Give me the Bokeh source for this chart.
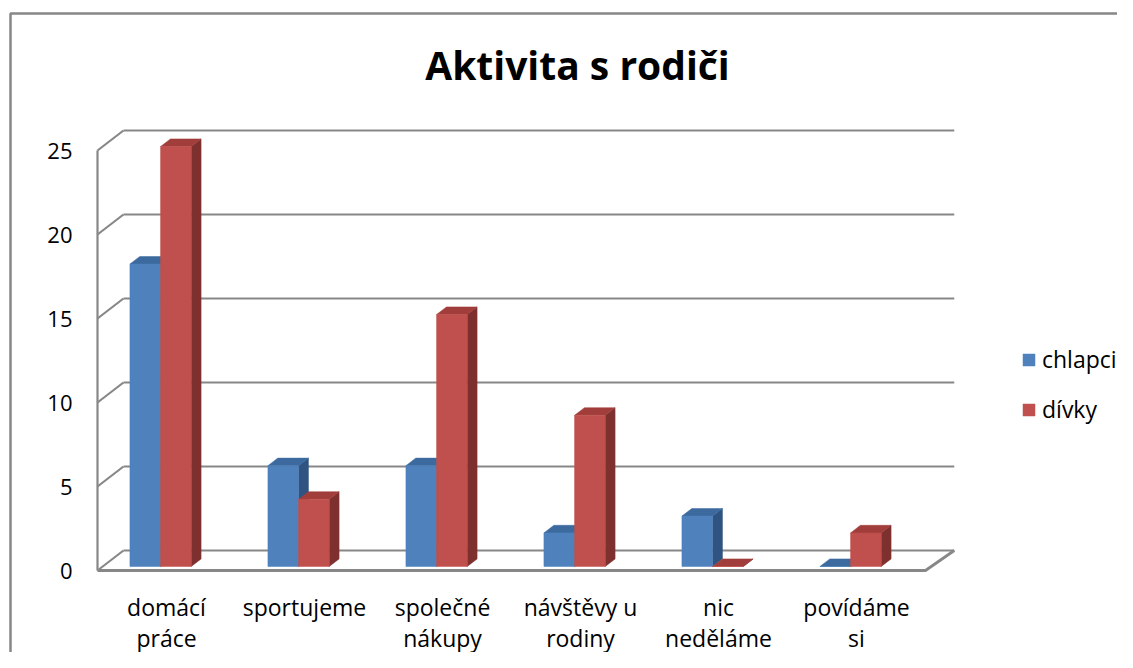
import numpy as np
from bokeh.plotting import figure
from bokeh.models import Range1d, Label, Legend, LegendItem
from bokeh.core.properties import value
from bokeh.embed import file_html
from bokeh.resources import INLINE

# ---------------- data ----------------
categories = ["domácí\npráce", "sportujeme", "společné\nnákupy",
              "návštěvy u\nrodiny", "nic\nneděláme", "povídáme\nsi"]
chlapci = [18, 6, 6, 2, 3, 0]
divky = [25, 4, 15, 9, 0, 2]
series_names = ["chlapci", "dívky"]
y_ticks = [0, 5, 10, 15, 20, 25]
y_tick_labels = ["0", "5", "10", "15", "20", "25"]
title_text = "Aktivita s rodiči"

# ---------------- styling ----------------
FONT = "Open Sans"
GRID = "#878787"
FRONT = ["#4F81BD", "#C0504D"]
TOP = ["#3D6A9E", "#A13E3B"]
SIDE = ["#2F5481", "#7D302E"]

W, H = 1117, 652
X0, PX = 97.0, 138.0         # pixel position of category 0 / px per category
Y0, PY = 570.0, 16.8         # pixel position of value 0 / px per unit


def px2x(rx):
    return (rx - X0) / PX


def py2y(ry):
    return (Y0 - ry) / PY


DX, DY = 26 / PX, 20 / PY     # depth of the 3D box
n = len(categories)
idx = np.arange(n)
ymax = max(y_ticks)

p = figure(width=W, height=H, output_backend="svg", toolbar_location=None,
           x_range=Range1d(px2x(0), px2x(W)),
           y_range=Range1d(py2y(H), py2y(0)),
           x_axis_type=None, y_axis_type=None, min_border=0)
p.grid.visible = False
p.outline_line_color = None
p.background_fill_color = "white"
p.border_fill_color = "white"

# outer chart border (cropped at right/bottom)
p.line(x=[px2x(10), px2x(10), px2x(1400)], y=[py2y(900), py2y(13), py2y(13)],
       line_color=GRID, line_width=2.5)

# back wall gridlines
p.multi_line(xs=[[DX, n + DX + 0.02] for v in y_ticks],
             ys=[[v + DY, v + DY] for v in y_ticks],
             line_color=GRID, line_width=2.2)
# left wall diagonals
p.multi_line(xs=[[0, DX] for v in y_ticks],
             ys=[[v, v + DY] for v in y_ticks],
             line_color=GRID, line_width=2.2)
# left front vertical edge
p.line(x=[0, 0], y=[0, ymax], line_color=GRID, line_width=2.2)
# floor front edge and right diagonal
p.line(x=[0, n, n + DX + 0.02], y=[0, 0, DY], line_color=GRID, line_width=2.8)

# ---------------- bars ----------------
BAR_LEFT, BAR_W = 0.235, 0.222
FD, BD = 0.2, 0.38
y0 = FD * DY
bdx, bdy = BD * DX, BD * DY

fronts = []
for s, vals in enumerate([chlapci, divky]):
    vals = np.array(vals, dtype=float)
    left = idx + BAR_LEFT + s * BAR_W
    right = left + BAR_W
    top = y0 + vals
    side_xs = [[r, r + bdx, r + bdx, r] for r in right]
    side_ys = [[y0, y0 + bdy, t + bdy, t] for t in top]
    top_xs = [[l, r, r + bdx, l + bdx] for l, r in zip(left, right)]
    top_ys = [[t, t, t + bdy, t + bdy] for t in top]
    p.patches(xs=side_xs, ys=side_ys, fill_color=SIDE[s], line_color=SIDE[s], line_width=0.5)
    p.patches(xs=top_xs, ys=top_ys, fill_color=TOP[s], line_color=TOP[s], line_width=0.5)
    fr = p.quad(left=left, right=right, bottom=y0, top=top,
                fill_color=FRONT[s], line_color=FRONT[s], line_width=0.5)
    fronts.append(fr)

# ---------------- texts ----------------
p.text(x=[px2x(72)] * len(y_ticks), y=y_ticks, text=y_tick_labels,
       text_align="right", text_baseline="middle",
       text_font=value(FONT), text_font_size="22px", text_color="black")

# category labels: split each label into its lines
line1 = [c.split("\n")[0] for c in categories]
line2 = [c.split("\n")[1] if "\n" in c else "" for c in categories]
cx2, l2 = zip(*[(x, t) for x, t in zip(idx + 0.5, line2) if t])
p.text(x=idx + 0.5, y=[py2y(606)] * n, text=line1,
       text_align="center", text_baseline="middle",
       text_font=value(FONT), text_font_size="23px", text_color="black")
p.text(x=list(cx2), y=[py2y(637)] * len(l2), text=list(l2),
       text_align="center", text_baseline="middle",
       text_font=value(FONT), text_font_size="23px", text_color="black")

p.add_layout(Label(x=px2x(577), y=py2y(64), text=title_text,
                   text_align="center", text_baseline="middle",
                   text_font=FONT, text_font_size="39px", text_font_style="bold",
                   text_color="black"))

legend = Legend(items=[LegendItem(label=series_names[0], renderers=[fronts[0]]),
                       LegendItem(label=series_names[1], renderers=[fronts[1]])],
                location=(1021, H - 425),
                glyph_width=15, glyph_height=15, label_standoff=6,
                spacing=18, label_height=24, padding=0, margin=0,
                border_line_color=None, background_fill_alpha=0,
                label_text_font=FONT, label_text_font_size="23px",
                label_text_color="black")
p.add_layout(legend)

open("out.html", "w").write(file_html(p, INLINE))
